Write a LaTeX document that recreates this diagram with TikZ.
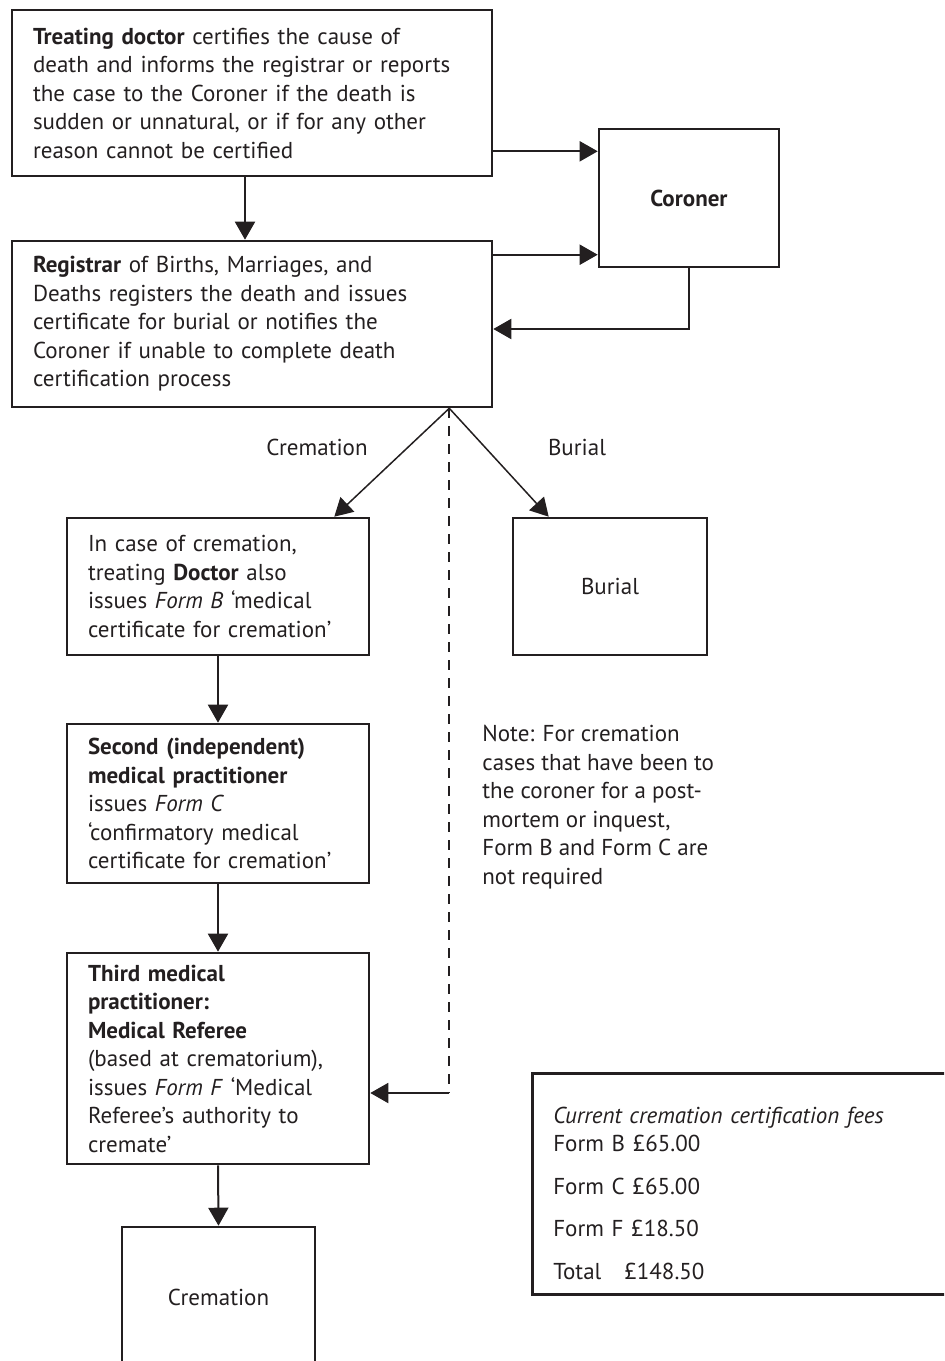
\documentclass[tikz,border=0pt]{standalone}
\usepackage{fontspec}
\setmainfont{PT Sans}
\usetikzlibrary{arrows.meta,calc}
\definecolor{ink}{RGB}{35,31,32}

\begin{document}
\begin{tikzpicture}[x=0.5pt,y=-0.5pt,>={Triangle[length=9pt,width=10pt]},
      font=\fontsize{11.5}{14.25}\selectfont,color=ink,
      box/.style={draw=ink,line width=1.3pt,align=left,inner xsep=10.5pt,inner ysep=0pt},
      wide box/.style={box,text width=219pt,minimum height=83pt},
      narrow box/.style={box,text width=130pt},
      end box/.style={box,align=center},
      arr/.style={->,line width=1pt},
      thin arr/.style={->,line width=0.75pt},
      note line/.style={line width=0.9pt,dash pattern=on 5pt off 4pt}]
    \clip (0,0) rectangle (944,1361);
    \node[wide box] (treat) at (252,93) {\textbf{Treating doctor} certifies the cause of\\ death and informs the registrar or reports\\ the case to the Coroner if the death is\\ sudden or unnatural, or if for any other\\ reason cannot be certified};
    \node[wide box] (registrar) at (252,324) {\textbf{Registrar} of Births, Marriages, and\\ Deaths registers the death and issues\\ certificate for burial or notifies the\\ Coroner if unable to complete death\\ certification process};
    \node[end box,font=\fontsize{11.5}{14.25}\selectfont\bfseries,minimum width=90pt,minimum height=69pt] (coroner) at (689,198) {Coroner};
    \node[narrow box,minimum height=68.5pt] (formb) at (218,586.5) {In case of cremation,\\ treating \textbf{Doctor} also\\ issues \textit{Form B} `medical\\ certificate for cremation'};
    \node[narrow box,minimum height=79.5pt] (formc) at (218,803.5) {\textbf{Second (independent)}\\ \textbf{medical practitioner}\\ issues \textit{Form C}\\ `confirmatory medical\\ certificate for cremation'};
    \node[narrow box,minimum height=105.5pt] (formf) at (218,1058.5) {\textbf{Third medical}\\ \textbf{practitioner:}\\ \textbf{Medical Referee}\\ (based at crematorium),\\ issues \textit{Form F} `Medical\\ Referee's authority to\\ cremate'};
    \node[end box,minimum width=97pt,minimum height=68.5pt] (burial) at (610,586.5) {Burial};
    \node[end box,minimum width=96.5pt,minimum height=70pt] (cremation) at (218.5,1297) {Cremation};
    \node[box,anchor=north west,text width=200pt,inner ysep=7.5pt] (fees) at (531,1072) {\rule{0pt}{17.5pt}\textit{Current cremation certification fees}\\ Form B £65.00\\[7pt] Form C £65.00\\[7pt] Form F £18.50\\[7pt] Total\quad £148.50};
    \node (cremlbl) at (317,447) {Cremation};
    \node (buriallbl) at (577,447) {Burial};
    \node[anchor=north west,align=left,inner sep=0pt] (note) at (482,725) {Note: For cremation\\ cases that have been to\\ the coroner for a post-\\ mortem or inquest,\\ Form B and Form C are\\ not required};

    \coordinate (t2c) at ([yshift=13pt]treat.south east);
    \coordinate (r2c) at ([yshift=-7.5pt]registrar.north east);
    \coordinate (split) at ([xshift=-22pt]registrar.south east);
    \coordinate (fentry) at ([yshift=-17.25pt]formf.east);
    \draw[arr] (t2c) -- (t2c -| coroner.west);
    \draw[arr] (r2c) -- (r2c -| coroner.west);
    \draw[arr] (coroner.south) |- ([yshift=-2.5pt]registrar.east);
    \draw[arr] ([xshift=-3.5pt]treat.south) -- ([xshift=-3.5pt]registrar.north);
    \draw[thin arr] (split) -- ([xshift=-18pt]formb.north east);
    \draw[thin arr] (split) -- ([xshift=18.5pt]burial.north west);
    \draw[note line] (split) -- (split |- fentry);
    \draw[arr] (split |- fentry) -- (fentry);
    \draw[arr] (formb.south) -- (formc.north);
    \draw[arr] (formc.south) -- (formf.north);
    \draw[arr] (formf.south) -- (cremation.north);
  \end{tikzpicture}
\end{document}
